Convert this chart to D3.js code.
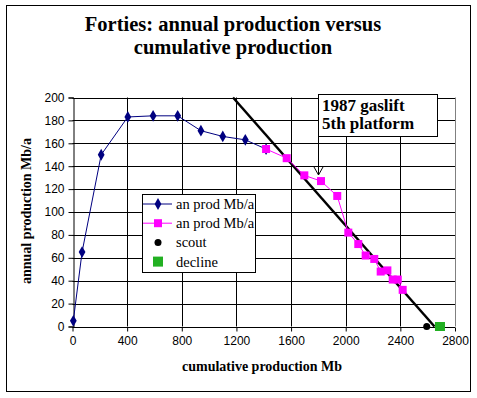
<!DOCTYPE html>
<html><head><meta charset="utf-8">
<script src="https://cdn.jsdelivr.net/npm/d3@7"></script>
<style>body{margin:0;background:#fff}svg{display:block}</style>
</head><body>
<script>
// Data
const anProdX = [6, 70, 210, 405, 590, 770, 940, 1100, 1265, 1417];
const anProdY = [5, 65, 150, 183, 184, 184, 171, 166, 163, 155];
const anProd2X = [1417, 1568, 1697, 1819, 1938, 2019, 2092, 2146, 2209, 2256, 2305, 2344, 2381, 2417];
const anProd2Y = [155, 147, 132, 127, 114, 82, 72, 62, 59, 48, 49, 41, 41, 32];
const scoutX = [2593], scoutY = [0];
const declineX = [2690], declineY = [0];
const declineLineX = [1175, 2650], declineLineY = [200, 0];
const xTicks = [0, 400, 800, 1200, 1600, 2000, 2400, 2800];
const yTicks = [0, 20, 40, 60, 80, 100, 120, 140, 160, 180, 200];
const legendLabels = ["an prod Mb/a", "an prod Mb/a", "scout", "decline"];
const titleLines = ["Forties: annual production versus", "cumulative production"];

const W = 477, H = 398;
const svg = d3.select("body").append("svg").attr("width", W).attr("height", H);
svg.append("rect").attr("x", 6.5).attr("y", 5.5).attr("width", 464).attr("height", 386)
  .attr("fill", "#fff").attr("stroke", "#000");

const x = d3.scaleLinear().domain([0, 2800]).range([72.5, 455]);
const y = d3.scaleLinear().domain([0, 200]).range([326.5, 97.5]);

const serif = "'Liberation Serif','Times New Roman',serif";
const sans = "'Liberation Sans',Arial,sans-serif";

// Title
svg.selectAll("text.title").data(titleLines).join("text")
  .attr("x", 233).attr("y", (d, i) => 31 + i * 22.8)
  .attr("text-anchor", "middle").attr("font-family", serif).attr("font-weight", "bold")
  .attr("font-size", 20.5).text(d => d);

// gridlines
const g = svg.append("g");
g.selectAll("line.hg").data(yTicks).join("line")
  .attr("x1", x(0)).attr("x2", x(2800)).attr("y1", d => Math.round(y(d)) + 0.5).attr("y2", d => Math.round(y(d)) + 0.5)
  .attr("stroke", "#000");
g.selectAll("line.vg").data(xTicks.slice(1, -1)).join("line")
  .attr("y1", y(200)).attr("y2", y(0)).attr("x1", d => Math.round(x(d)) + 0.5).attr("x2", d => Math.round(x(d)) + 0.5)
  .attr("stroke", "#000");
g.append("line").attr("x1", Math.round(x(2800)) + 0.5).attr("x2", Math.round(x(2800)) + 0.5)
  .attr("y1", y(200)).attr("y2", y(0)).attr("stroke", "#808080");

// axes
const xAxis = d3.axisBottom(x).tickValues(xTicks).tickSize(4).tickPadding(5).tickFormat(d3.format("d"));
const yAxis = d3.axisLeft(y).tickValues(yTicks).tickSize(5).tickPadding(4);
const xa = svg.append("g").attr("transform", `translate(0,${Math.round(y(0)) + 0.5})`).call(xAxis);
const ya = svg.append("g").attr("transform", `translate(${Math.round(x(0)) + 0.5},0)`).call(yAxis);
[xa, ya].forEach(a => {
  a.select(".domain").attr("stroke", "#000");
  a.selectAll("text").attr("font-family", sans).attr("font-size", 12).attr("fill", "#000");
  a.selectAll("line").attr("stroke", "#000");
});
xa.select(".domain").remove();
xa.append("line").attr("x1", x(0)).attr("x2", x(2800)).attr("stroke", "#000");

// axis titles
svg.append("text").attr("x", 262).attr("y", 371).attr("text-anchor", "middle")
  .attr("font-family", serif).attr("font-weight", "bold").attr("font-size", 14)
  .text("cumulative production Mb");
svg.append("text").attr("transform", "translate(31,211) rotate(-90)").attr("text-anchor", "middle")
  .attr("font-family", serif).attr("font-weight", "bold").attr("font-size", 14)
  .text("annual production Mb/a");

// decline line
const ld = declineLineX.map((v, i) => [v, declineLineY[i]]);
svg.append("path").datum(ld).attr("d", d3.line().x(d => x(d[0])).y(d => y(d[1])))
  .attr("stroke", "#000").attr("stroke-width", 2.5).attr("fill", "none");

// series 1
const s1 = anProdX.map((v, i) => [v, anProdY[i]]);
svg.append("path").datum(s1).attr("d", d3.line().x(d => x(d[0])).y(d => y(d[1])))
  .attr("stroke", "#000080").attr("stroke-width", 1).attr("fill", "none");
const diamond = d3.symbol().type(d3.symbolDiamond).size(40);
svg.selectAll("path.s1").data(s1).join("path")
  .attr("transform", d => `translate(${x(d[0])},${y(d[1])})`).attr("d", diamond).attr("fill", "#000080");

// series 2
const s2 = anProd2X.map((v, i) => [v, anProd2Y[i]]);
svg.append("path").datum(s2).attr("d", d3.line().x(d => x(d[0])).y(d => y(d[1])))
  .attr("stroke", "#ff00ff").attr("stroke-width", 1).attr("fill", "none");
svg.selectAll("rect.s2").data(s2).join("rect")
  .attr("x", d => x(d[0]) - 4).attr("y", d => y(d[1]) - 4).attr("width", 8).attr("height", 8).attr("fill", "#ff00ff");

// scout
svg.selectAll("circle.sc").data(scoutX.map((v, i) => [v, scoutY[i]])).join("circle")
  .attr("cx", d => x(d[0])).attr("cy", d => y(d[1])).attr("r", 3.5).attr("fill", "#000");
// decline
svg.selectAll("rect.dc").data(declineX.map((v, i) => [v, declineY[i]])).join("rect")
  .attr("x", d => x(d[0]) - 5).attr("y", d => y(d[1]) - 4.5).attr("width", 10).attr("height", 9).attr("fill", "#22b022");

// legend
const lg = svg.append("g");
lg.append("rect").attr("x", 142.5).attr("y", 194.5).attr("width", 113).attr("height", 78)
  .attr("fill", "#fff").attr("stroke", "#000");
legendLabels.forEach((t, i) => {
  const cy = 204 + i * 19.2;
  if (i < 2) lg.append("line").attr("x1", 143).attr("x2", 172).attr("y1", cy).attr("y2", cy)
    .attr("stroke", i === 0 ? "#000080" : "#ff00ff");
  if (i === 0) lg.append("path").attr("transform", `translate(158,${cy})`).attr("d", diamond).attr("fill", "#000080");
  if (i === 1) lg.append("rect").attr("x", 154).attr("y", cy - 4).attr("width", 8).attr("height", 8).attr("fill", "#ff00ff");
  if (i === 2) lg.append("circle").attr("cx", 158).attr("cy", cy).attr("r", 3.5).attr("fill", "#000");
  if (i === 3) lg.append("rect").attr("x", 153).attr("y", cy - 5).attr("width", 10).attr("height", 10).attr("fill", "#22b022");
  lg.append("text").attr("x", 176).attr("y", cy + 5).attr("font-family", serif).attr("font-size", 14.5).text(t);
});

// annotation
const an = svg.append("g");
an.append("rect").attr("x", 318.5).attr("y", 94.5).attr("width", 119).attr("height", 42)
  .attr("fill", "#fff").attr("stroke", "#000");
an.append("text").attr("x", 322).attr("y", 111).attr("font-family", serif).attr("font-weight", "bold").attr("font-size", 17).text("1987 gaslift");
an.append("text").attr("x", 322).attr("y", 129).attr("font-family", serif).attr("font-weight", "bold").attr("font-size", 17).text("5th platform");
an.append("path").attr("d", "M318.5,137 L318.5,175 M314,167 L318.5,175 L323,167")
  .attr("stroke", "#000").attr("fill", "none");
</script>
</body></html>
